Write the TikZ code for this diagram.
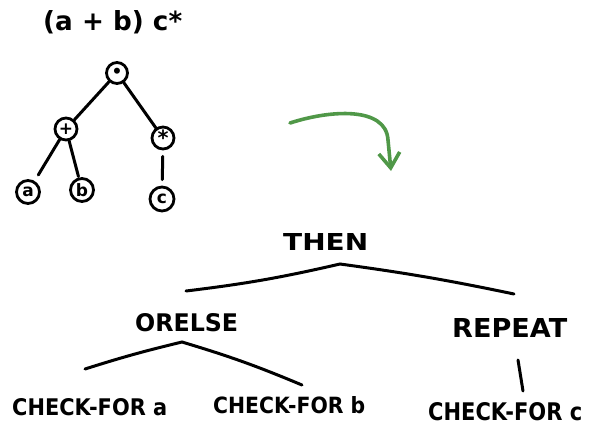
\documentclass[tikz,border=0pt]{standalone}
\usepackage{graphicx}
\usepackage{fontspec}
\setmainfont{DejaVu Sans}
\usetikzlibrary{arrows.meta}
\definecolor{arrowgreen}{RGB}{80,152,72}
\begin{document}
\begin{tikzpicture}[x=1pt,y=-1pt,
  ink/.style={line width=3pt, line cap=round, black},
  opnode/.style={circle, draw, line width=2.8pt, minimum size=22pt, inner sep=0pt,
    font=\fontsize{17}{17}\selectfont\bfseries},
  label text/.style={inner sep=0pt, anchor=base west, font=\bfseries},
  flow/.style={line width=3.6pt, line cap=round, arrowgreen,
    -{Straight Barb[length=15pt,width=21pt,line width=3.6pt]}}]
\useasboundingbox (0,0) rectangle (591,429);

% regular expression and its syntax tree
\node[label text] (expr) at (43,30) {\resizebox{139pt}{20pt}{(a + b) c*}};
\node[opnode, minimum size=21pt] (cat) at (117,73) {\textbullet};
\node[opnode] (alt)  at (66,129)  {+};
\node[opnode, font=\fontsize{21}{21}\selectfont\bfseries] (star) at (163,138) {\raisebox{-5pt}{*}};
\node[opnode, minimum size=23pt] (la) at (28,192) {a};
\node[opnode, minimum size=23pt] (lb) at (82,190) {b};
\node[opnode, minimum size=24pt] (lc) at (162,199) {c};
\draw[ink] (cat) -- (alt);
\draw[ink] (cat) -- (star);
\draw[ink, shorten >=7pt] (alt) -- (la);
\draw[ink, shorten >=1pt] (alt) -- (lb);
\draw[ink, shorten <=6pt, shorten >=6pt] (star) -- (lc);

% translation arrow
\coordinate (arrS) at (290,123);
\coordinate (arrE) at (391,171);
\draw[flow] (arrS) .. controls (330,110) and (386,106) .. (388,140) -- (arrE);

% combinator tree
\node[label text] (then)   at (283,250) {\resizebox{85pt}{17pt}{THEN}};
\node[label text] (orelse) at (135,331) {\resizebox{103pt}{18pt}{ORELSE}};
\node[label text] (repeat) at (452,337) {\resizebox{115pt}{19pt}{REPEAT}};
\node[label text] (cka) at (12,415)  {\resizebox{155pt}{17pt}{CHECK-FOR a}};
\node[label text] (ckb) at (213,413) {\resizebox{152pt}{17pt}{CHECK-FOR b}};
\node[label text] (ckc) at (428,420) {\resizebox{154pt}{18pt}{CHECK-FOR c}};

\coordinate (thenApex) at (340,264);
\coordinate (thenL) at (186,291);
\coordinate (thenR) at (514,294);
\coordinate (orApex) at (182,342);
\coordinate (orL) at (85,369);
\coordinate (orR) at (302,385);
\coordinate (repT) at (518,360);
\coordinate (repB) at (523,391);

\draw[ink] (thenL) to[bend right=3] (thenApex) to[bend left=2] (thenR);
\draw[ink] (orL) to[bend left=2] (orApex) to[bend left=3] (orR);
\draw[ink] (repT) -- (repB);
\end{tikzpicture}
\end{document}
